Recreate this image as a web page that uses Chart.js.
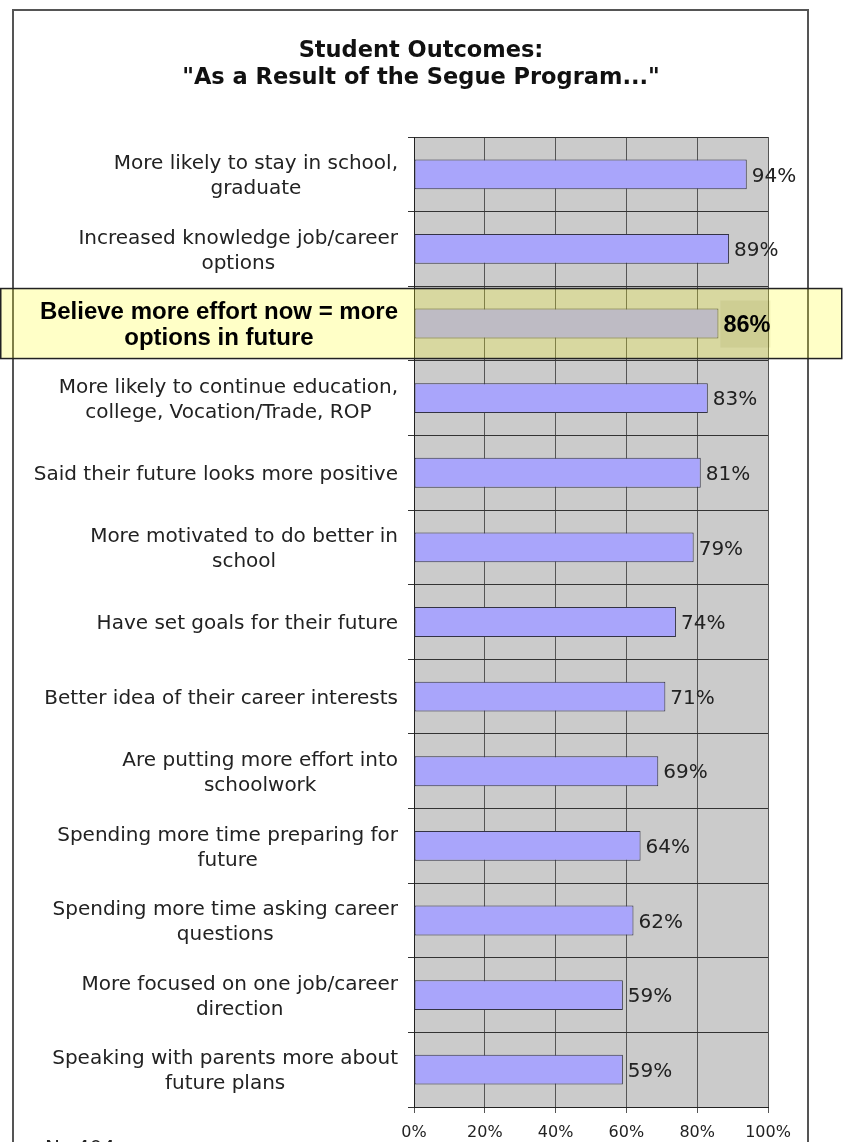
<!DOCTYPE html>
<html>
<head>
<meta charset="utf-8">
<script src="https://cdn.jsdelivr.net/npm/chart.js@4.4.1/dist/chart.umd.min.js"></script>
<style>
  html, body { margin: 0; padding: 0; background: #fff; }
  #wrap { width: 847px; height: 1142px; position: relative; }
</style>
</head>
<body>
<div id="wrap"><canvas id="grafikHasil"></canvas></div>
<script>
// data
const outcomes = [
  ['More likely to stay in school,', 'graduate'],
  ['Increased knowledge job/career', 'options'],
  ['Believe more effort now = more', 'options in future'],
  ['More likely to continue education,', 'college, Vocation/Trade, ROP'],
  ['Said their future looks more positive'],
  ['More motivated to do better in', 'school'],
  ['Have set goals for their future'],
  ['Better idea of their career interests'],
  ['Are putting more effort into', 'schoolwork'],
  ['Spending more time preparing for', 'future'],
  ['Spending more time asking career', 'questions'],
  ['More focused on one job/career', 'direction'],
  ['Speaking with parents more about', 'future plans'],
];
const percents = [94, 89, 86, 83, 81, 79, 74, 71, 69, 64, 62, 59, 59];
const xTickLabels = ['0%', '20%', '40%', '60%', '80%', '100%'];
const highlightIndex = 2;
const titleLines = ['Student Outcomes:', '"As a Result of the Segue Program..."'];
const sampleNote = 'N=404';

const FONT = "'DejaVu Sans', Verdana, sans-serif";
const BOLD_FONT = "'Liberation Sans', Arial, sans-serif";

// background, frame, title and plot fill
const bgPlugin = {
  id: 'bgPlugin',
  beforeDraw(chart) {
    const { ctx, chartArea: a } = chart;
    ctx.save();
    ctx.fillStyle = '#fff';
    ctx.fillRect(0, 0, chart.width, chart.height);
    ctx.strokeStyle = '#555';
    ctx.lineWidth = 2;
    ctx.strokeRect(13, 10, 795, 1300);
    ctx.fillStyle = '#cbcbcb';
    ctx.fillRect(a.left, a.top, a.right - a.left, a.bottom - a.top);

    ctx.font = `bold 22.5px ${FONT}`;
    ctx.fillStyle = '#111';
    ctx.textAlign = 'center';
    ctx.textBaseline = 'middle';
    titleLines.forEach((t, k) => ctx.fillText(t, 421, 51 + k * 27));
    ctx.restore();
  }
};

// highlight box, category labels and value labels
const labelPlugin = {
  id: 'labelPlugin',
  afterDatasetsDraw(chart) {
    const { ctx, scales } = chart;
    const y = scales.y;
    const meta = chart.getDatasetMeta(0);
    ctx.save();

    // yellow band over the highlighted row
    const hy = y.getPixelForValue(highlightIndex);
    ctx.fillStyle = 'rgba(255,255,30,0.25)';
    ctx.fillRect(0, hy - 35, 842, 70);
    ctx.strokeStyle = '#222';
    ctx.lineWidth = 1.5;
    ctx.strokeRect(0.75, hy - 35, 841, 70);

    // category labels (lines centred within a right-aligned block)
    const right = 398;
    outcomes.forEach((lines, i) => {
      const hi = i === highlightIndex;
      ctx.font = hi ? `bold 24px ${BOLD_FONT}` : `20px ${FONT}`;
      ctx.fillStyle = hi ? '#000' : '#222';
      ctx.textAlign = 'center';
      ctx.textBaseline = 'middle';
      const lh = hi ? 26 : 25;
      const w = Math.max(...lines.map(l => ctx.measureText(l).width));
      const cx = right - w / 2;
      const cy = y.getPixelForValue(i);
      const y0 = cy - (lines.length - 1) * lh / 2;
      lines.forEach((l, k) => ctx.fillText(l, cx, y0 + k * lh + 2));
    });

    // value labels
    meta.data.forEach((bar, i) => {
      const hi = i === highlightIndex;
      const txt = percents[i] + '%';
      if (hi) {
        ctx.fillStyle = 'rgba(90,90,0,0.08)';
        ctx.fillRect(bar.x + 2, bar.y - 23, 50, 47);
      }
      ctx.font = hi ? `bold 23.5px ${BOLD_FONT}` : `20px ${FONT}`;
      ctx.fillStyle = hi ? '#000' : '#222';
      ctx.textAlign = 'left';
      ctx.textBaseline = 'middle';
      ctx.fillText(txt, bar.x + 5, bar.y + 2);
    });

    // sample size note, mostly cut off at the bottom
    ctx.font = `20px ${FONT}`;
    ctx.fillStyle = '#222';
    ctx.textAlign = 'left';
    ctx.textBaseline = 'alphabetic';
    ctx.fillText(sampleNote, 45, 1154);
    ctx.restore();
  }
};

const data = {
  labels: outcomes,
  datasets: [{
    label: 'Percent',
    data: percents,
    backgroundColor: '#a9a5fb',
    borderColor: '#333344',
    borderWidth: 1,
    borderSkipped: false,
    barPercentage: 0.4,
    categoryPercentage: 1,
  }]
};

const config = {
  type: 'bar',
  data,
  options: {
    indexAxis: 'y',
    responsive: true,
    maintainAspectRatio: false,
    animation: false,
    layout: { padding: { left: 0, right: 79, top: 137, bottom: 0 } },
    scales: {
      x: {
        min: 0,
        max: 100,
        afterFit(scale) { scale.height = 35; },
        ticks: {
          stepSize: 20,
          padding: 10,
          color: '#222',
          font: { family: FONT, size: 16 },
          callback: (v, i) => xTickLabels[i],
        },
        grid: { color: '#555', lineWidth: 1, tickLength: 6 },
        border: { color: '#222', width: 1 },
      },
      y: {
        offset: true,
        afterFit(scale) { scale.width = 414; },
        ticks: { display: false },
        grid: { offset: true, color: '#333', lineWidth: 1, tickLength: 6 },
        border: { color: '#222', width: 1 },
      }
    },
    plugins: {
      legend: { display: false },
      tooltip: { enabled: false },
      title: { display: false },
    }
  },
  plugins: [bgPlugin, labelPlugin]
};

const myChart = new Chart(document.getElementById('grafikHasil'), config);
</script>
</body>
</html>
